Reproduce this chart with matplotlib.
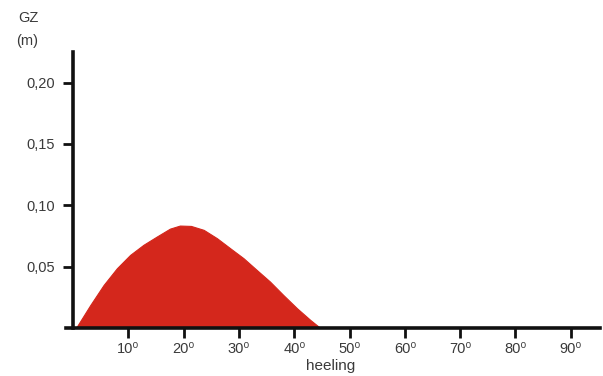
import matplotlib
matplotlib.use('Agg')
import matplotlib.pyplot as plt

plt.rcParams['font.family'] = ['Liberation Sans', 'DejaVu Sans']

# GZ curve (heeling angle in degrees, GZ in m)
angles = [0.5, 3.1, 5.5, 7.9, 10.3, 12.7, 15.1, 17.5, 19.3, 21.3, 23.6, 26.0,
          28.4, 30.8, 33.2, 35.6, 38.0, 40.5, 42.9, 44.7]
gz = [0.0, 0.0188, 0.0351, 0.0487, 0.0596, 0.0678, 0.0745, 0.0810, 0.0835,
      0.0832, 0.0800, 0.0732, 0.0650, 0.0569, 0.0473, 0.0378, 0.0269, 0.0160,
      0.0065, 0.0]

x_ticks = [10, 20, 30, 40, 50, 60, 70, 80, 90]
x_labels = [f'{t}\u2070' for t in x_ticks]
y_ticks = [0.05, 0.10, 0.15, 0.20]
y_labels = ['0,05', '0,10', '0,15', '0,20']

text_col = '#3a3a3a'

fig = plt.figure(figsize=(6.03, 3.76), dpi=100)
ax = fig.add_axes([0.1095, 0.1277, 0.8856, 0.734])

ax.fill_between(angles, gz, 0, color='#d4271c', linewidth=0.8, edgecolor='#d4271c')

ax.set_xlim(-1.3, 95.3)
ax.set_ylim(0, 0.225)

ax.spines['top'].set_visible(False)
ax.spines['right'].set_visible(False)
ax.spines['left'].set_position(('data', 0))
for s in ['left', 'bottom']:
    ax.spines[s].set_linewidth(2.6)
    ax.spines[s].set_color('#111111')

ax.set_xticks(x_ticks)
ax.set_xticklabels(x_labels)
ax.set_yticks(y_ticks)
ax.set_yticklabels(y_labels)
ax.tick_params(axis='both', direction='out', length=7, width=2, color='#111111',
               labelsize=10.5, labelcolor=text_col)
ax.tick_params(axis='y', pad=6)
ax.tick_params(axis='x', pad=3)

fig.text(28 / 603, 1 - 18 / 376, 'GZ', ha='center', va='center', fontsize=10.5, color=text_col)
fig.text(27 / 603, 1 - 41 / 376, '(m)', ha='center', va='center', fontsize=10.5, color=text_col)
fig.text(331 / 603, 1 - 366 / 376, 'heeling', ha='center', va='center', fontsize=11, color=text_col)

fig.savefig('out.png', dpi=100)
